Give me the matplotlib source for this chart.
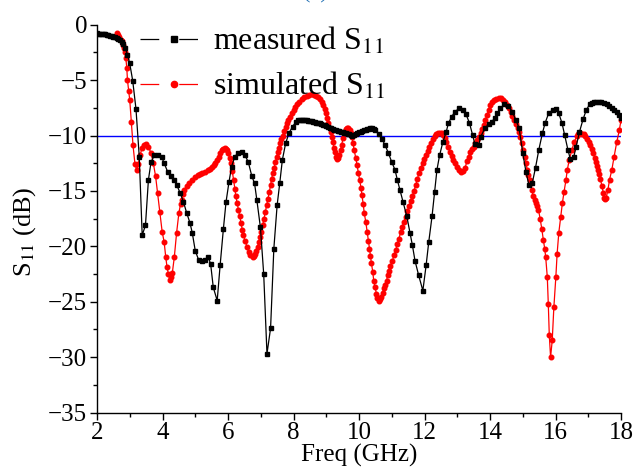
import matplotlib
matplotlib.use("Agg")
import matplotlib.pyplot as plt
from matplotlib.lines import Line2D
from matplotlib.ticker import MultipleLocator

# ---- data ----
meas_f = [2.00, 2.05, 2.10, 2.15, 2.20, 2.25, 2.30, 2.35, 2.40, 2.45, 2.50, 2.55, 2.60, 2.65,
          2.70, 2.75, 2.80, 2.86, 2.93, 3.00, 3.09, 3.19, 3.29, 3.38, 3.48, 3.57, 3.65, 3.75,
          3.87, 3.97, 4.05, 4.16, 4.26, 4.36, 4.44, 4.54, 4.64, 4.74, 4.84, 4.91, 5.00, 5.10,
          5.20, 5.30, 5.40, 5.47, 5.55, 5.67, 5.76, 5.86, 5.94, 6.03, 6.11, 6.21, 6.30, 6.42,
          6.52, 6.62, 6.73, 6.81, 6.88, 6.99, 7.09, 7.19, 7.30, 7.40, 7.50, 7.58, 7.66, 7.76,
          7.86, 7.97, 8.08, 8.15, 8.20, 8.25, 8.30, 8.35, 8.40, 8.45, 8.50, 8.55, 8.60, 8.65,
          8.70, 8.75, 8.80, 8.85, 8.90, 8.95, 9.00, 9.05, 9.10, 9.15, 9.20, 9.25, 9.30, 9.35,
          9.40, 9.45, 9.50, 9.55, 9.60, 9.65, 9.70, 9.75, 9.80, 9.85, 9.90, 9.95, 10.00, 10.05,
          10.10, 10.15, 10.20, 10.25, 10.30, 10.35, 10.40, 10.45, 10.50, 10.60, 10.70, 10.80,
          10.90, 11.00, 11.10, 11.17, 11.25, 11.35, 11.46, 11.56, 11.63, 11.71, 11.82, 11.95,
          12.05, 12.13, 12.23, 12.31, 12.38, 12.46, 12.56, 12.66, 12.73, 12.83, 12.93, 13.06,
          13.17, 13.27, 13.37, 13.47, 13.54, 13.65, 13.72, 13.85, 13.96, 14.06, 14.15, 14.22,
          14.32, 14.44, 14.56, 14.68, 14.79, 14.89, 15.00, 15.10, 15.19, 15.29, 15.39, 15.49,
          15.60, 15.68, 15.79, 15.91, 16.02, 16.10, 16.20, 16.28, 16.38, 16.45, 16.56, 16.63,
          16.73, 16.84, 16.94, 17.04, 17.10, 17.17, 17.25, 17.33, 17.40, 17.48, 17.56, 17.64,
          17.72, 17.79, 17.87, 17.94, 18.00]
meas_db = [-0.78, -0.80, -0.82, -0.84, -0.86, -0.88, -0.90, -0.94, -0.98, -1.03, -1.08, -1.15,
           -1.22, -1.30, -1.42, -1.58, -1.78, -2.1, -2.7, -3.5, -5.05, -7.6, -11.9, -19.0, -18.1,
           -14.0, -12.4, -11.8, -11.8, -11.9, -12.5, -13.3, -13.7, -14.0, -14.5, -15.2, -16.0,
           -17.0, -17.9, -18.8, -20.4, -21.2, -21.3, -21.2, -21.0, -21.6, -23.7, -24.9, -21.7,
           -18.4, -16.0, -14.2, -12.8, -11.9, -11.6, -11.5, -11.8, -12.4, -13.7, -14.3, -15.8,
           -18.3, -22.5, -29.7, -27.4, -20.2, -16.3, -14.3, -12.2, -10.7, -9.8, -9.2, -8.75,
           -8.62, -8.58, -8.57, -8.58, -8.6, -8.63, -8.67, -8.7, -8.73, -8.77, -8.8, -8.84,
           -8.87, -8.9, -8.96, -9.02, -9.08, -9.15, -9.22, -9.3, -9.35, -9.4, -9.46, -9.5,
           -9.55, -9.6, -9.65, -9.7, -9.75, -9.8, -9.85, -9.9, -9.95, -10.0, -9.98, -9.9, -9.8,
           -9.72, -9.65, -9.58, -9.52, -9.47, -9.42, -9.38, -9.35, -9.36, -9.42, -9.52, -9.9,
           -10.3, -10.9, -11.6, -12.4, -13.1, -14.0, -14.9, -16.0, -17.3, -18.8, -19.9, -21.3,
           -22.6, -24.0, -21.7, -19.6, -17.3, -15.1, -13.1, -11.8, -10.6, -9.7, -8.9, -8.3,
           -7.85, -7.55, -7.7, -8.1, -8.85, -9.96, -10.8, -10.9, -10.1, -9.3, -9.0, -8.75, -8.4,
           -8.0, -7.55, -7.2, -7.35, -7.85, -8.6, -9.35, -11.6, -13.3, -14.5, -14.3, -12.9,
           -11.3, -9.8, -8.9, -8.0, -7.7, -7.65, -8.0, -8.9, -9.96, -11.3, -12.1, -11.9, -11.0,
           -9.7, -8.55, -7.7, -7.2, -7.1, -7.0, -6.97, -6.95, -7.0, -7.05, -7.2, -7.35, -7.5,
           -7.7, -7.9, -8.15, -8.45]

sim_f = [2.60, 2.64, 2.68, 2.72, 2.75, 2.79, 2.82, 2.85, 2.88, 2.91, 2.93, 2.97, 3.00, 3.05,
         3.10, 3.16, 3.21, 3.26, 3.31, 3.38, 3.44, 3.49, 3.57, 3.65, 3.72, 3.79, 3.85, 3.92,
         3.99, 4.05, 4.10, 4.14, 4.18, 4.23, 4.27, 4.30, 4.36, 4.43, 4.50, 4.55, 4.59, 4.63,
         4.67, 4.74, 4.81, 4.90, 5.00, 5.07, 5.15, 5.22, 5.30, 5.38, 5.45, 5.51, 5.56, 5.61,
         5.66, 5.71, 5.76, 5.81, 5.86, 5.90, 5.93, 5.97, 6.01, 6.05, 6.09, 6.13, 6.17, 6.21,
         6.24, 6.28, 6.32, 6.36, 6.40, 6.44, 6.47, 6.52, 6.58, 6.63, 6.68, 6.75, 6.80, 6.83,
         6.87, 6.91, 6.95, 6.99, 7.02, 7.06, 7.10, 7.14, 7.18, 7.22, 7.26, 7.30, 7.33, 7.37,
         7.41, 7.45, 7.49, 7.53, 7.56, 7.60, 7.63, 7.67, 7.72, 7.76, 7.80, 7.84, 7.89, 7.94,
         8.00, 8.06, 8.12, 8.18, 8.25, 8.32, 8.40, 8.47, 8.55, 8.62, 8.68, 8.75, 8.81, 8.86,
         8.91, 8.95, 8.99, 9.03, 9.06, 9.10, 9.13, 9.17, 9.20, 9.24, 9.27, 9.31, 9.34, 9.37,
         9.40, 9.44, 9.47, 9.51, 9.55, 9.59, 9.63, 9.67, 9.71, 9.75, 9.78, 9.82, 9.85, 9.90,
         9.94, 9.98, 10.02, 10.06, 10.09, 10.13, 10.16, 10.21, 10.25, 10.29, 10.32, 10.35,
         10.38, 10.42, 10.45, 10.49, 10.53, 10.56, 10.60, 10.64, 10.68, 10.72, 10.76, 10.80,
         10.84, 10.88, 10.91, 10.96, 11.02, 11.07, 11.12, 11.17, 11.22, 11.27, 11.32, 11.37,
         11.42, 11.48, 11.53, 11.58, 11.63, 11.68, 11.73, 11.78, 11.83, 11.89, 11.94, 11.99,
         12.04, 12.10, 12.15, 12.20, 12.26, 12.31, 12.36, 12.41, 12.47, 12.52, 12.57, 12.62,
         12.67, 12.73, 12.78, 12.83, 12.88, 12.93, 12.98, 13.05, 13.12, 13.18, 13.24, 13.30,
         13.35, 13.40, 13.45, 13.50, 13.55, 13.60, 13.66, 13.71, 13.76, 13.81, 13.86, 13.91,
         13.96, 14.01, 14.06, 14.11, 14.18, 14.26, 14.34, 14.41, 14.47, 14.53, 14.58, 14.63,
         14.68, 14.73, 14.78, 14.84, 14.88, 14.92, 14.97, 15.02, 15.06, 15.10, 15.14, 15.17,
         15.21, 15.24, 15.28, 15.32, 15.36, 15.40, 15.44, 15.48, 15.53, 15.58, 15.63, 15.67,
         15.70, 15.75, 15.78, 15.81, 15.85, 15.90, 15.95, 16.01, 16.05, 16.10, 16.16, 16.21,
         16.26, 16.32, 16.36, 16.42, 16.50, 16.57, 16.65, 16.70, 16.75, 16.80, 16.86, 16.91,
         16.96, 17.01, 17.06, 17.11, 17.16, 17.20, 17.24, 17.28, 17.31, 17.34, 17.37, 17.42,
         17.46, 17.49, 17.52, 17.55, 17.60, 17.65, 17.72, 17.79, 17.87, 17.95, 18.00]
sim_db = [-0.75, -0.95, -1.15, -1.35, -1.5, -1.8, -2.1, -2.5, -3.0, -3.9, -5.0, -6.0, -6.8,
          -8.8, -10.9, -12.6, -13.1, -12.6, -11.8, -11.1, -10.85, -10.8, -11.0, -11.6, -12.5,
          -13.7, -15.2, -16.9, -18.7, -19.6, -21.0, -21.9, -22.5, -23.0, -22.8, -22.4, -21.0,
          -18.8, -17.0, -16.2, -15.8, -15.3, -14.9, -14.55, -14.25, -14.0, -13.75, -13.6,
          -13.45, -13.38, -13.3, -13.15, -13.0, -12.85, -12.7, -12.45, -12.2, -11.9, -11.6,
          -11.35, -11.2, -11.15, -11.2, -11.35, -11.6, -12.0, -12.5, -13.2, -14.0, -14.8,
          -15.5, -16.1, -16.7, -17.3, -17.9, -18.5, -19.0, -19.5, -20.05, -20.5, -20.8, -20.95,
          -20.85, -20.65, -20.4, -20.05, -19.6, -19.15, -18.7, -18.1, -17.5, -16.9, -16.3,
          -15.7, -15.1, -14.5, -13.95, -13.4, -12.9, -12.4, -11.95, -11.5, -11.1, -10.7, -10.35,
          -10.0, -9.6, -9.2, -8.9, -8.6, -8.3, -8.0, -7.7, -7.4, -7.15, -6.95, -6.75, -6.55,
          -6.4, -6.3, -6.28, -6.3, -6.4, -6.55, -6.7, -6.95, -7.25, -7.6, -8.0, -8.45, -8.9,
          -9.3, -9.65, -10.1, -10.6, -11.1, -11.5, -11.9, -12.1, -12.05, -11.8, -11.35, -10.9,
          -10.25, -9.65, -9.4, -9.3, -9.35, -9.5, -9.75, -10.1, -10.7, -11.3, -12.0, -12.7,
          -13.35, -14.0, -14.7, -15.4, -16.2, -17.0, -17.85, -18.7, -19.5, -20.2, -20.9, -21.55,
          -22.3, -23.1, -23.7, -24.3, -24.7, -24.9, -24.8, -24.6, -24.2, -23.8, -23.45, -23.1,
          -22.6, -22.2, -21.75, -21.3, -20.8, -20.35, -19.8, -19.3, -18.75, -18.25, -17.8,
          -17.35, -16.85, -16.4, -15.95, -15.5, -15.0, -14.5, -13.95, -13.4, -12.95, -12.5,
          -12.15, -11.8, -11.4, -11.0, -10.65, -10.3, -10.05, -9.9, -9.8, -9.75, -9.8, -9.96,
          -10.25, -10.6, -11.05, -11.5, -11.85, -12.2, -12.5, -12.8, -13.1, -13.3, -13.2, -12.9,
          -12.3, -11.9, -11.5, -11.25, -11.0, -10.7, -10.4, -10.1, -9.8, -9.45, -9.05, -8.6,
          -8.15, -7.7, -7.25, -7.0, -6.8, -6.68, -6.6, -6.65, -6.8, -7.0, -7.25, -7.55, -7.85,
          -8.2, -8.6, -8.95, -9.35, -9.7, -10.1, -10.7, -11.3, -11.9, -12.5, -13.1, -13.6,
          -14.0, -14.3, -14.9, -15.5, -15.8, -16.1, -16.4, -16.7, -17.5, -18.4, -19.45, -20.2,
          -20.95, -22.8, -25.2, -28.0, -30.0, -28.5, -25.5, -22.8, -20.65, -18.8, -17.35, -16.1,
          -15.1, -14.0, -13.1, -12.2, -11.3, -10.6, -10.05, -9.88, -9.8, -9.82, -9.9, -10.08,
          -10.3, -10.6, -10.9, -11.25, -11.6, -12.0, -12.4, -12.75, -13.1, -13.5, -13.9, -14.6,
          -15.2, -15.6, -15.75, -15.6, -14.9, -14.0, -13.1, -11.9, -10.6, -9.5, -8.6]

ref_level = -10
x_ticks = [2, 4, 6, 8, 10, 12, 14, 16, 18]
y_ticks = [0, -5, -10, -15, -20, -25, -30, -35]
labels = ["measured S$_{11}$", "simulated S$_{11}$"]

plt.rcParams["font.family"] = ["Liberation Serif", "DejaVu Serif"]
plt.rcParams["mathtext.fontset"] = "stix"

fig = plt.figure(figsize=(6.35, 4.76), dpi=100)
ax = fig.add_axes([97 / 635, 1 - 412.5 / 476, (621 - 97) / 635, (412.5 - 24.7) / 476])

ax.axhline(ref_level, color="#0000ff", lw=1.0, zorder=1)
ax.plot(meas_f, meas_db, color="black", lw=0.9, marker="s", ms=2.6,
        mec="black", mfc="black", zorder=3)
ax.plot(sim_f, sim_db, color="#ff0000", lw=0.9, marker="o", ms=3.3,
        mec="#ff0000", mfc="#ff0000", zorder=2)

ax.set_xlim(2, 18)
ax.set_ylim(-35, 0)
ax.set_xticks(x_ticks)
ax.set_yticks(y_ticks)
ax.xaxis.set_minor_locator(MultipleLocator(1))
ax.yaxis.set_minor_locator(MultipleLocator(2.5))
ax.spines["top"].set_visible(False)
ax.spines["right"].set_visible(False)
for s in ("left", "bottom"):
    ax.spines[s].set_linewidth(1.0)
ax.tick_params(which="major", direction="out", length=5, width=1.0, labelsize=18, pad=2)
ax.tick_params(which="minor", direction="out", length=3, width=1.0)
ax.set_xlabel("Freq (GHz)", fontsize=18, labelpad=0)
ax.set_ylabel("S$_{11}$ (dB)", fontsize=19)
ax.yaxis.set_label_coords(-0.112, 0.465)

handles = [
    Line2D([], [], color="black", lw=0.9, dashes=(15, 16), marker="s", ms=4,
           mfc="black", mec="black"),
    Line2D([], [], color="#ff0000", lw=0.9, dashes=(15, 16), marker="o", ms=4.5,
           mfc="#ff0000", mec="#ff0000"),
]
leg = ax.legend(handles, labels, loc="upper left", bbox_to_anchor=(140 / 635, 1 - 26 / 476),
                bbox_transform=fig.transFigure, frameon=False, fontsize=23,
                handlelength=2.1, handletextpad=0.2, labelspacing=0.42, borderpad=0,
                borderaxespad=0, numpoints=1)

fig.text(315 / 635, 1 - 3 / 476, "(a)", color="#1f6fb4", fontsize=16,
         ha="center", va="bottom")

fig.savefig("out.png", dpi=100)
